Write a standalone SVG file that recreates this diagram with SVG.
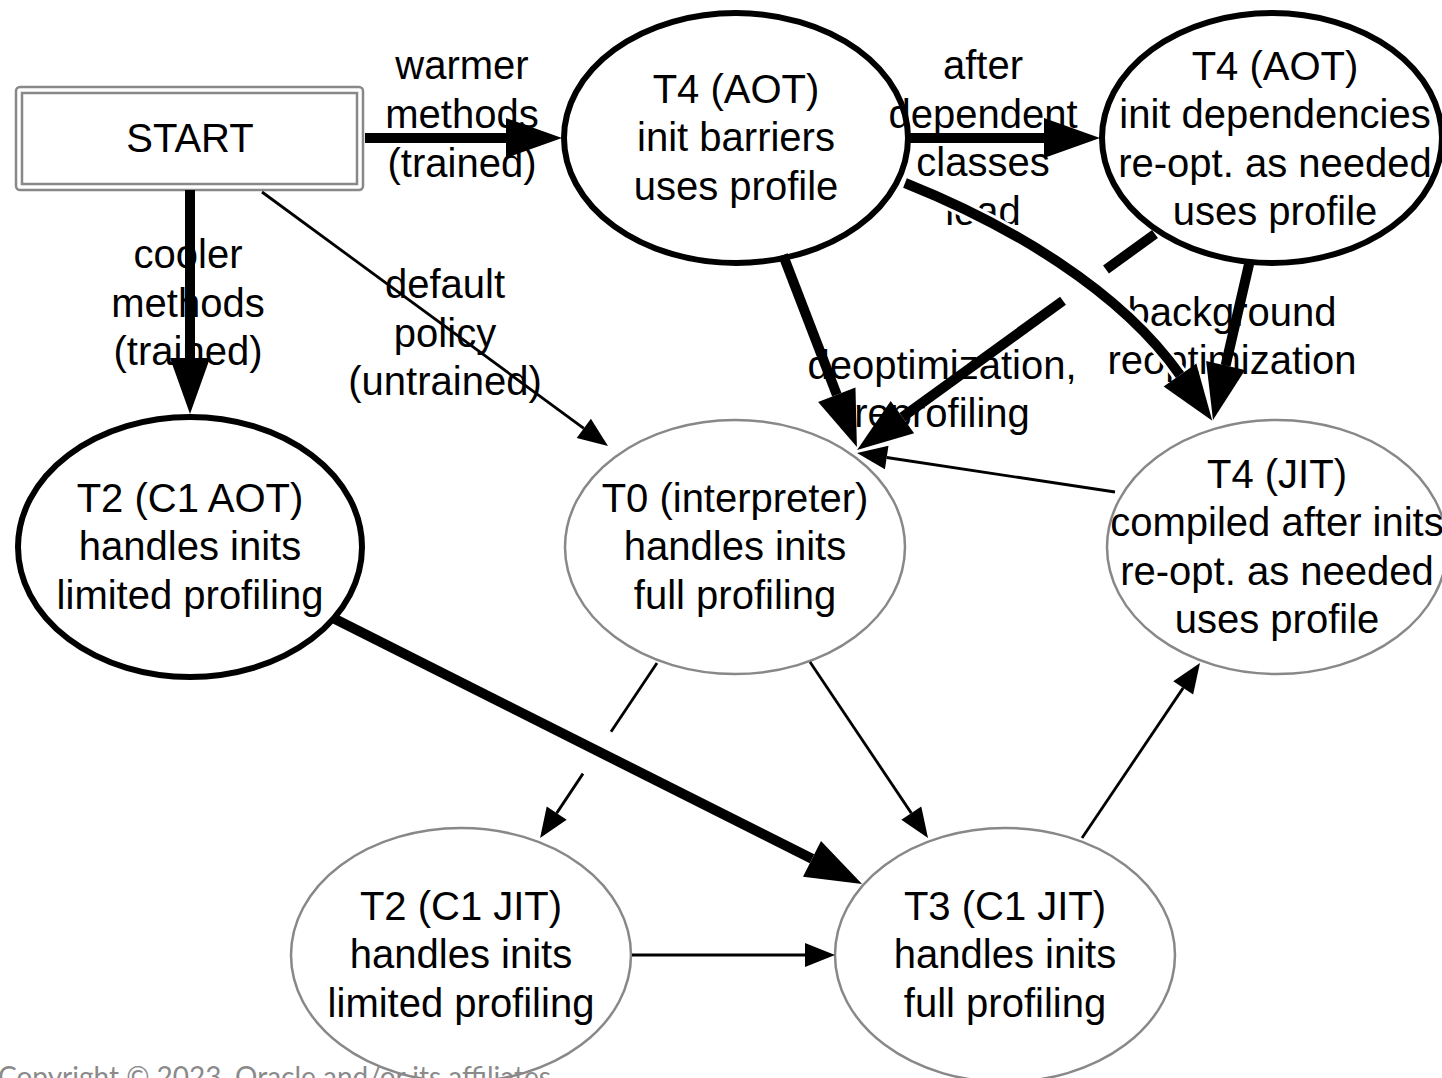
<svg xmlns="http://www.w3.org/2000/svg" width="1442" height="1078" viewBox="0 0 1442 1078">
<style>
text{font-family:"Liberation Sans",Arial,Helvetica,sans-serif;font-size:40px;fill:#000;text-anchor:middle}
.bold{fill:#fff;stroke:#000;stroke-width:6}
.thin{fill:#fff;stroke:#888;stroke-width:2.5}
.e1{fill:none;stroke:#000;stroke-width:10}
.e2{fill:none;stroke:#000;stroke-width:2.8}
.copy{font-family:"Lato","Liberation Sans",sans-serif;font-size:28px;fill:#8a8a8a;text-anchor:start}
</style>
<defs>
<marker id="ahB" markerUnits="userSpaceOnUse" markerWidth="60" markerHeight="44" refX="0" refY="0" orient="auto" overflow="visible"><path d="M0,-20 L56,0 L0,20 z" fill="#000"/></marker>
<marker id="ahT" markerUnits="userSpaceOnUse" markerWidth="32" markerHeight="26" refX="0" refY="0" orient="auto" overflow="visible"><path d="M0,-12 L30,0 L0,12 z" fill="#000"/></marker>
</defs>
<rect width="1442" height="1078" fill="#fff"/>

<g id="start">
<rect x="16" y="87" width="347" height="103" rx="4" fill="#fff" stroke="#888" stroke-width="2.5"/>
<rect x="22" y="93" width="335" height="91" fill="none" stroke="#888" stroke-width="2.5"/>
<text x="190" y="152">START</text>
</g>
<g id="t4aot-barriers">
<ellipse class="bold" cx="736" cy="138" rx="172" ry="125"/>
<text x="736" y="103">T4 (AOT)</text><text x="736" y="151">init barriers</text><text x="736" y="200">uses profile</text>
</g>
<g id="t4aot-deps">
<text x="1275" y="80">T4 (AOT)</text><text x="1275" y="128">init dependencies</text><text x="1275" y="177">re-opt. as needed</text><text x="1275" y="225">uses profile</text>
<ellipse cx="1272" cy="138" rx="170" ry="125" fill="none" stroke="#000" stroke-width="6"/>
</g>
<g id="t2aot">
<ellipse class="bold" cx="190" cy="547" rx="172" ry="130"/>
<text x="190" y="512">T2 (C1 AOT)</text><text x="190" y="560">handles inits</text><text x="190" y="609">limited profiling</text>
</g>
<g id="t0">
<ellipse class="thin" cx="735" cy="547" rx="170" ry="127"/>
<text x="735" y="512">T0 (interpreter)</text><text x="735" y="560">handles inits</text><text x="735" y="609">full profiling</text>
</g>
<g id="t4jit">
<text x="1277" y="488">T4 (JIT)</text><text x="1277" y="536">compiled after inits</text><text x="1277" y="585">re-opt. as needed</text><text x="1277" y="633">uses profile</text>
<ellipse cx="1277" cy="547" rx="170" ry="127" fill="none" stroke="#888" stroke-width="2.5"/>
</g>
<g id="t2jit">
<ellipse class="thin" cx="461" cy="955" rx="170" ry="127"/>
<text x="461" y="920">T2 (C1 JIT)</text><text x="461" y="968">handles inits</text><text x="461" y="1017">limited profiling</text>
</g>
<g id="t3">
<ellipse class="thin" cx="1005" cy="955" rx="170" ry="127"/>
<text x="1005" y="920">T3 (C1 JIT)</text><text x="1005" y="968">handles inits</text><text x="1005" y="1017">full profiling</text>
</g>

<g id="labels">
<text x="462" y="79">warmer</text><text x="462" y="128">methods</text><text x="462" y="177">(trained)</text>
<text x="188" y="268">cooler</text><text x="188" y="317">methods</text><text x="188" y="365">(trained)</text>
<text x="445" y="298">default</text><text x="445" y="347">policy</text><text x="445" y="395">(untrained)</text>
<text x="983" y="79">after</text><text x="983" y="128">dependent</text><text x="983" y="176">classes</text><text x="983" y="225">load</text>
<text x="942" y="379">deoptimization,</text><text x="942" y="427">reprofiling</text>
<text x="1232" y="326">background</text><text x="1232" y="374">reoptimization</text>
</g>

<g id="connectors">
<path class="e1" d="M365,138 L506,138" marker-end="url(#ahB)"/>
<path class="e1" d="M190,190 L190,358" marker-end="url(#ahB)"/>
<path class="e2" d="M262,192 L583.8,428.3" marker-end="url(#ahT)"/>
<path class="e1" d="M908,138 L1044,138" marker-end="url(#ahB)"/>
<path class="e1" d="M783,255 L836.8,394.8" marker-end="url(#ahB)"/>
<path class="e1" d="M1155,234 L1106,269.5 M1063,300.7 L902.4,417.1" marker-end="url(#ahB)"/>
<path d="M905,183 C1010,225 1120,290 1180,375" fill="none" stroke="#fff" stroke-width="16"/>
<path class="e1" d="M905,183 C1010,225 1120,290 1180,375" marker-end="url(#ahB)"/>
<path class="e1" d="M1250,260 L1225.6,365.5" marker-end="url(#ahB)"/>
<path class="e2" d="M1115,492 L886.7,457.5" marker-end="url(#ahT)"/>
<path class="e1" d="M333,618 L812,858.8" marker-end="url(#ahB)"/>
<path class="e2" d="M657,663 L611,731.7 M583,773.6 L556.7,813.1" marker-end="url(#ahT)"/>
<path class="e2" d="M810,662 L911.3,813.1" marker-end="url(#ahT)"/>
<path class="e2" d="M632,955 L805,955" marker-end="url(#ahT)"/>
<path class="e2" d="M1082,838 L1183.2,687.9" marker-end="url(#ahT)"/>
</g>

<text class="copy" x="-2" y="1087">Copyright © 2023, Oracle and/or its affiliates</text>
</svg>
